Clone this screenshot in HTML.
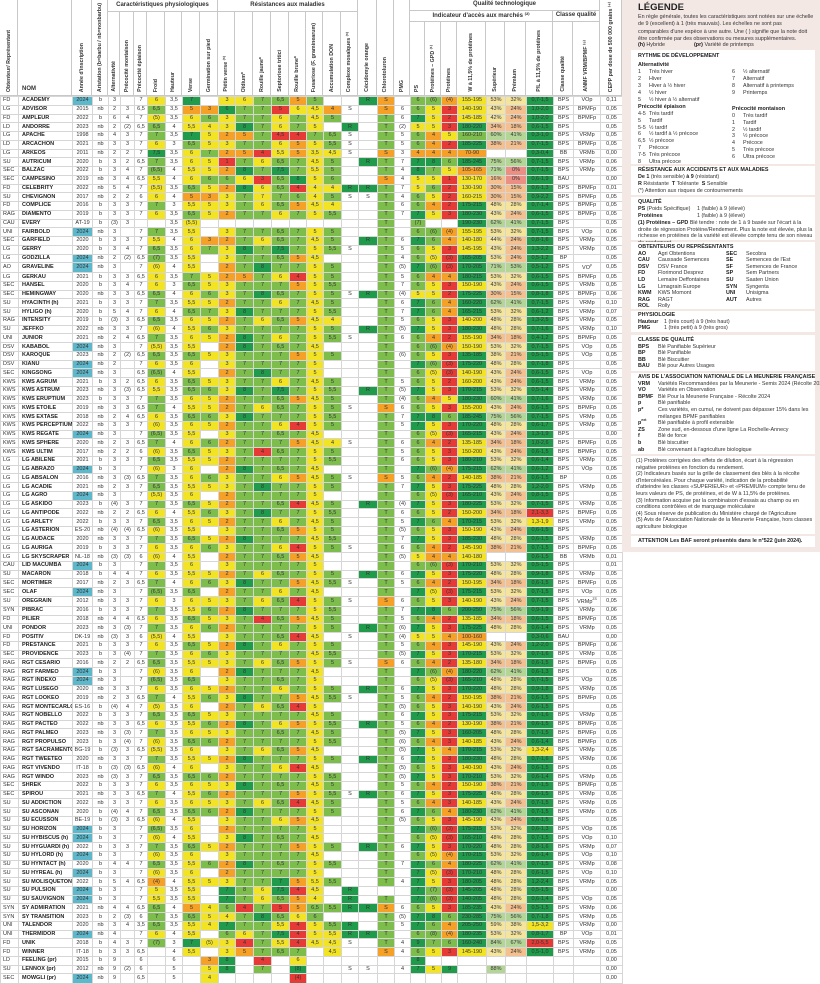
<!DOCTYPE html>
<html><head><meta charset="utf-8">
<style>
body{margin:0;width:820px;height:984px;position:relative;background:#fff;font-family:"Liberation Sans Narrow","Liberation Sans",sans-serif;color:#222;overflow:hidden}
.hd{position:absolute;box-sizing:border-box;border-right:1px solid #c8c8c8;border-bottom:1px solid #c8c8c8;font-weight:bold;font-size:5.5px;color:#333}
.hd .v{position:absolute;bottom:3px;left:50%;writing-mode:vertical-rl;transform:translateX(-50%) rotate(180deg);white-space:nowrap;font-size:5.3px}
.hd .t{position:absolute;top:2px;left:0;right:0;text-align:center;font-size:6px}
table{position:absolute;left:0;top:96px;width:622px;height:888px;border-collapse:collapse;table-layout:fixed;font-size:5.5px;color:#333}
td,th{border:1px solid #d6d6d6;padding:0;text-align:center;line-height:5px;white-space:nowrap;overflow:hidden}
sup{line-height:0;font-size:3.5px;vertical-align:super}
th{text-align:left;font-weight:bold;padding-left:3px;color:#222}
td:first-child{text-align:left;padding-left:2px}
td[r]{background:#e53a35}td[o]{background:#f5a128}td[y]{background:#f2e425}td[l]{background:#7dbd4c}td[g]{background:#1f9b4b}
td[b]{background:#5db8cc}td[a]{background:#f4c08f}td[c]{background:#f4e49c}td[d]{background:#b3d595}td[p]{background:#eb8e84}
tr.t td,tr.t th{border-top:1.5px solid #555}
#lg{position:absolute;left:622px;top:0;width:198px;height:552px;background:#f4e8e5;font-size:5.4px;color:#333;overflow:hidden}
#lg .bx{position:absolute;left:9px;width:184px;background:#fff}
#lg .a{position:absolute;white-space:nowrap;line-height:7px}
#lg b{color:#222}
</style></head><body>
<div class="hd" style="left:0;top:0;width:18px;height:96px"><div class="v">Obtenteur/ Représentant</div></div>
<div class="hd" style="left:18px;top:0;width:54px;height:96px"><div style="position:absolute;left:4px;bottom:3px;font-size:6px">NOM</div></div>
<div class="hd" style="left:72px;top:0;width:20px;height:96px"><div class="v">Année d'inscription</div></div>
<div class="hd" style="left:92px;top:0;width:16px;height:96px"><div class="v" style="bottom:auto;top:3px">Aristation (b=barbu / nb=nonbarbu)</div></div>
<div class="hd" style="left:108px;top:0;width:110px;height:12px"><div class="t">Caractéristiques physiologiques</div></div>
<div class="hd" style="left:108px;top:12px;width:12px;height:84px"><div class="v">Alternativité</div></div>
<div class="hd" style="left:120px;top:12px;width:14px;height:84px"><div class="v">Précocité montaison</div></div>
<div class="hd" style="left:134px;top:12px;width:13px;height:84px"><div class="v">Précocité épiaison</div></div>
<div class="hd" style="left:147px;top:12px;width:18px;height:84px"><div class="v">Froid</div></div>
<div class="hd" style="left:165px;top:12px;width:17px;height:84px"><div class="v">Hauteur</div></div>
<div class="hd" style="left:182px;top:12px;width:18px;height:84px"><div class="v">Verse</div></div>
<div class="hd" style="left:200px;top:12px;width:18px;height:84px"><div class="v">Germination sur pied</div></div>
<div class="hd" style="left:218px;top:0;width:140px;height:12px"><div class="t">Résistances aux maladies</div></div>
<div class="hd" style="left:218px;top:12px;width:17px;height:84px"><div class="v">Piétin verse ⁽³⁾</div></div>
<div class="hd" style="left:235px;top:12px;width:18px;height:84px"><div class="v">Oïdium*</div></div>
<div class="hd" style="left:253px;top:12px;width:18px;height:84px"><div class="v">Rouille jaune*</div></div>
<div class="hd" style="left:271px;top:12px;width:18px;height:84px"><div class="v">Septoriose tritici</div></div>
<div class="hd" style="left:289px;top:12px;width:17px;height:84px"><div class="v">Rouille brune*</div></div>
<div class="hd" style="left:306px;top:12px;width:17px;height:84px"><div class="v">Fusariose (F. graminearum)</div></div>
<div class="hd" style="left:323px;top:12px;width:18px;height:84px"><div class="v">Accumulation DON</div></div>
<div class="hd" style="left:341px;top:12px;width:17px;height:84px"><div class="v">Complexe mosaïques ⁽³⁾</div></div>
<div class="hd" style="left:358px;top:0;width:19px;height:96px"><div class="v">Cécidomyie orange</div></div>
<div class="hd" style="left:377px;top:0;width:17px;height:96px"><div class="v">Chlorotoluron</div></div>
<div class="hd" style="left:394px;top:0;width:16px;height:96px"><div class="v">PMG</div></div>
<div class="hd" style="left:410px;top:0;width:190px;height:11px"><div class="t" style="top:1px">Qualité technologique</div></div>
<div class="hd" style="left:410px;top:11px;width:143px;height:11px"><div class="t" style="top:1px">Indicateur d'accès aux marchés ⁽²⁾</div></div>
<div class="hd" style="left:553px;top:11px;width:47px;height:11px"><div class="t" style="top:1px">Classe qualité</div></div>
<div class="hd" style="left:410px;top:22px;width:15px;height:74px"><div class="v">PS</div></div>
<div class="hd" style="left:425px;top:22px;width:16px;height:74px"><div class="v">Protéines – GPD ⁽¹⁾</div></div>
<div class="hd" style="left:441px;top:22px;width:16px;height:74px"><div class="v">Protéines</div></div>
<div class="hd" style="left:457px;top:22px;width:29px;height:74px"><div class="v">W à 11,5% de protéines</div></div>
<div class="hd" style="left:486px;top:22px;width:19px;height:74px"><div class="v">Supérieur</div></div>
<div class="hd" style="left:505px;top:22px;width:21px;height:74px"><div class="v">Prémium</div></div>
<div class="hd" style="left:526px;top:22px;width:27px;height:74px"><div class="v">P/L à 11,5% de protéines</div></div>
<div class="hd" style="left:553px;top:22px;width:20px;height:74px"><div class="v">Classe qualité</div></div>
<div class="hd" style="left:573px;top:22px;width:27px;height:74px"><div class="v">ANMF VRM/BPMF ⁽⁵⁾</div></div>
<div class="hd" style="left:600px;top:0;width:22px;height:96px"><div class="v">CEPP par dose de 500 000 grains ⁽⁴⁾</div></div>

<table>
<colgroup><col style="width:18px"><col style="width:54px"><col style="width:20px"><col style="width:16px"><col style="width:12px"><col style="width:14px"><col style="width:13px"><col style="width:18px"><col style="width:17px"><col style="width:18px"><col style="width:18px"><col style="width:17px"><col style="width:18px"><col style="width:18px"><col style="width:18px"><col style="width:17px"><col style="width:17px"><col style="width:18px"><col style="width:17px"><col style="width:19px"><col style="width:17px"><col style="width:16px"><col style="width:15px"><col style="width:16px"><col style="width:16px"><col style="width:29px"><col style="width:19px"><col style="width:21px"><col style="width:27px"><col style="width:20px"><col style="width:27px"><col style="width:22px"></colgroup>
<tr><td>FD<th>ACADEMY<td b>2024<td>b<td>3<td><td>7<td y>6<td>3,5<td g>7<td><td y>3<td y>6<td l>7<td l>6,5<td o>5<td l>5<td><td><td g>R<td o>S<td><td l>6<td l>(6)<td o>(4)<td y>155-195<td c>53%<td c>32%<td g>0,7-1,5<td>BPS<td>VOp<td>0,11
<tr><td>LG<th>ADVISOR<td>2015<td>nb<td>2<td>3<td>6,5<td l>6,5<td>3,5<td o>5<td o>3<td g>6<td l>7<td l>7<td r>5<td y>6<td y>4,5<td o>4<td>S<td><td o>S<td>6<td l>6<td y>5<td r>3<td y>140-190<td c>43%<td a>24%<td g>1,0-2,0<td>BPS<td>BPMFp<td>0,05
<tr><td>FD<th>AMPLEUR<td>2022<td>b<td>6<td>4<td>7<td y>(5)<td>3,5<td y>6<td l>6<td y>3<td l>7<td l>7<td y>6<td l>7<td y>4,5<td l>5<td><td><td l>T<td>6<td g>7<td y>5<td r>2<td y>145-185<td c>42%<td a>24%<td g>1,0-2,0<td>BPS<td>BPMFp<td>0,05
<tr><td>LD<th>ANDORRE<td>2023<td>nb<td>2<td>(2)<td>6,5<td l>6,5<td>4<td y>5,5<td y>4<td y>3<td g>8<td l>7<td y>6<td l>7<td y>5<td><td g>R<td><td l>T<td>(2)<td y>5<td y>5<td r>3<td g>180-220<td a>34%<td a>18%<td g>0,6-1,5<td>BPS<td><td>0,05
<tr><td>LG<th>APACHE<td>1998<td>nb<td>4<td>3<td>7<td l>7<td>3,5<td g>7<td y>5<td o>2<td o>5<td l>7<td r>4,5<td r>4<td l>7<td l>6,5<td>S<td><td l>T<td>5<td l>6<td o>4<td y>5<td l>160-210<td d>60%<td d>41%<td g>0,3-1,0<td>BPS<td>VRMp<td>0,05
<tr><td>LD<th>ARCACHON<td>2021<td>nb<td>3<td>3<td>7<td y>6<td>3<td l>6,5<td y>5<td y>3<td l>7<td l>7<td y>6<td o>5<td y>5<td l>5,5<td>S<td><td l>T<td>5<td l>6<td o>4<td r>2<td g>185-225<td a>38%<td a>21%<td g>0,7-1,5<td>BPS<td>BPMFp<td>0,05
<tr><td>LG<th>ARKEOS<td>2011<td>nb<td>2<td>2<td>7<td g>7,5<td>3,5<td y>6<td l>7<td o>2<td o>5<td r>4<td y>5,5<td o>5<td y>3,5<td y>4,5<td>S<td><td o>S<td>3<td o>4<td o>4<td o>4<td o>70-90<td><td><td g>0,3-0,4<td>BB<td>VRMb<td>0,00
<tr><td>SU<th>AUTRICUM<td>2020<td>b<td>3<td>2<td>6,5<td l>7<td>3,5<td y>6<td y>5<td r>1<td l>7<td y>6<td l>6,5<td l>7<td y>4,5<td l>5<td><td g>R<td l>T<td>7<td g>7<td g>8<td l>6<td g>185-245<td d>75%<td d>56%<td g>0,7-1,5<td>BPS<td>VRMp<td>0,06
<tr><td>SEC<th>BALZAC<td>2022<td>b<td>3<td>4<td>7<td l>(6,5)<td>4<td y>5,5<td y>5<td o>2<td g>8<td l>7<td g>7,5<td l>7<td y>5,5<td l>5<td><td><td l>T<td>4<td g>8<td l>7<td y>5<td o>105-165<td d>71%<td p>0%<td g>0,7-1,5<td>BPS<td>VRMp<td>0,05
<tr><td>SEC<th>CAMPESINO<td>2019<td>nb<td>3<td>4<td>6,5<td y>5,5<td>4<td y>6<td l>6<td l>6<td y>6<td r>3<td l>6,5<td g>8<td y>5<td l>6<td><td><td o>S<td>4<td y>5<td y>5<td r>1<td y>130-170<td a>16%<td p>0%<td g>0,6-1,9<td>BAU<td><td>0,00
<tr><td>FD<th>CELEBRITY<td>2022<td>nb<td>5<td>4<td>7<td y>(5,5)<td>3,5<td l>6,5<td y>5<td o>2<td g>8<td y>6<td l>6,5<td r>4<td y>4<td y>4<td g>R<td g>R<td l>T<td>7<td y>5<td l>6<td r>2<td y>130-190<td a>30%<td a>15%<td g>0,6-1,3<td>BPS<td>BPMFp<td>0,01
<tr><td>SU<th>CHEVIGNON<td>2017<td>nb<td>2<td>2<td>6<td y>6<td>4<td o>5<td o>3<td y>3<td l>7<td y>7<td l>7<td l>6<td y>4<td l>5<td>S<td>S<td l>T<td>4<td l>6<td y>5<td r>2<td y>160-215<td a>30%<td a>15%<td g>0,9-2,2<td>BPS<td>BPMFp<td>0,05
<tr><td>FD<th>COMPLICE<td>2016<td>b<td>3<td>3<td>7<td l>7<td>3<td y>5,5<td y>5<td y>3<td l>7<td y>6<td l>6,5<td o>5<td y>4,5<td y>4<td><td><td l>T<td>6<td l>6<td o>4<td r>2<td g>175-215<td c>48%<td c>28%<td g>0,7-1,4<td>BPS<td>BPMFp<td>0,05
<tr><td>RAG<th>DIAMENTO<td>2019<td>b<td>3<td>3<td>7<td y>6<td>3,5<td l>6,5<td y>5<td o>2<td l>7<td l>7<td y>6<td l>7<td y>5<td l>5,5<td><td><td l>T<td>7<td g>7<td y>5<td r>3<td g>180-230<td c>43%<td a>24%<td g>0,6-1,5<td>BPS<td>BPMFp<td>0,05
<tr><td>CAU<th>EVERY<td>AT-19<td>b<td>(3)<td>3<td><td><td>3,5<td y>(5,5)<td><td><td><td><td><td><td><td><td><td><td l>T<td><td l>(7)<td><td><td g>190-230<td d>62%<td d>41%<td g>0,7-1,5<td>BPS<td><td>0,05
<tr><td>UNI<th>FAIRBOLD<td b>2024<td>nb<td>3<td><td>7<td l>7<td>3,5<td y>5,5<td><td y>3<td l>7<td l>7<td l>6,5<td l>7<td y>5<td l>5<td><td><td l>T<td><td l>6<td l>(6)<td o>(4)<td y>155-195<td c>53%<td c>32%<td g>0,7-1,5<td>BPS<td>VOp<td>0,06
<tr><td>SEC<th>GARFIELD<td>2020<td>b<td>3<td>3<td>7<td y>5,5<td>4<td y>6<td o>3<td o>2<td l>7<td y>6<td l>6,5<td l>7<td y>4,5<td l>5<td><td g>R<td l>T<td>6<td g>7<td l>6<td o>4<td y>140-180<td c>44%<td a>24%<td g>0,8-1,6<td>BPS<td>VRMp<td>0,05
<tr><td>LG<th>GERRY<td>2020<td>b<td>3<td>4<td>7<td l>6,5<td>3,5<td y>6<td l>7<td y>3<td g>8<td l>7<td g>7,5<td l>7<td y>5<td l>5,5<td>S<td><td l>T<td>5<td l>6<td y>5<td r>3<td y>145-195<td c>43%<td a>24%<td g>1,3-2,2<td>BPS<td>VRMp<td>0,05
<tr><td>LG<th>GODZILLA<td b>2024<td>nb<td>2<td>(2)<td>6,5<td l>(7)<td>3,5<td y>5,5<td><td y>3<td l>7<td l>7<td l>6,5<td o>5<td y>4,5<td><td><td><td l>T<td>4<td l>6<td y>(5)<td r>(3)<td g>165-205<td c>53%<td a>24%<td g>0,5-1,2<td>BP<td><td>0,05
<tr><td>AO<th>GRAVELINE<td b>2024<td>nb<td>3<td><td>7<td y>(6)<td>4<td y>5,5<td><td o>2<td l>7<td g>8<td l>7<td l>7<td y>5<td l>5<td><td><td l>T<td>(5)<td g>7<td l>(6)<td r>(3)<td g>170-205<td d>71%<td d>53%<td g>0,5-1,2<td>BPS<td>VO<sup>p</sup><td>0,05
<tr><td>LG<th>GERKAU<td>2021<td>b<td>3<td>3<td>6,5<td y>6<td>3,5<td l>7<td y>5<td o>2<td o>5<td l>7<td y>6<td r>4<td y>5<td l>5<td><td><td l>T<td>5<td l>6<td o>4<td o>4<td g>180-215<td c>53%<td c>32%<td g>0,6-1,5<td>BPS<td>BPMFp<td>0,05
<tr><td>SEC<th>HANSEL<td>2020<td>b<td>3<td>4<td>7<td y>6<td>3<td l>6,5<td y>5<td y>3<td l>7<td l>7<td l>7<td o>5<td y>5<td l>5,5<td><td><td l>T<td>7<td l>6<td y>5<td r>3<td y>150-190<td c>43%<td a>24%<td g>0,6-1,5<td>BPS<td>VRMb<td>0,05
<tr><td>SEC<th>HEMINGWAY<td>2020<td>nb<td>3<td>3<td>6,5<td l>6,5<td>4<td y>6<td l>6<td y>3<td l>7<td g>8<td l>6,5<td l>7<td y>5<td l>5<td>S<td g>R<td l>T<td>(4)<td y>5<td y>5<td r>2<td g>175-225<td a>30%<td a>15%<td g>0,8-1,8<td>BPS<td>BPMFp<td>0,06
<tr><td>SU<th>HYACINTH (h)<td>2021<td>b<td>3<td>3<td>7<td l>7<td>3,5<td y>5,5<td y>5<td o>2<td l>7<td l>7<td y>6<td l>7<td y>4,5<td l>5<td><td><td l>T<td>6<td g>7<td l>6<td o>4<td g>160-220<td d>62%<td d>41%<td g>0,7-1,5<td>BPS<td>VRMp<td>0,10
<tr><td>SU<th>HYLIGO (h)<td>2020<td>b<td>5<td>4<td>7<td y>6<td>4<td l>6,5<td l>7<td y>3<td g>8<td l>7<td l>7<td l>7<td y>5<td l>5,5<td><td><td l>T<td>7<td g>7<td l>6<td o>4<td g>165-215<td c>53%<td c>32%<td g>0,6-1,2<td>BPS<td>VRMp<td>0,07
<tr><td>RAG<th>INTENSITY<td>2019<td>b<td>(3)<td>3<td>6,5<td l>6,5<td>3,5<td y>6<td y>5<td o>2<td l>7<td y>6<td l>6,5<td o>5<td y>4,5<td y>4<td><td><td l>T<td>5<td l>6<td y>5<td r>3<td y>140-200<td c>48%<td c>28%<td g>1,3-2,5<td>BPS<td>VRMp<td>0,05
<tr><td>SU<th>JEFFKO<td>2022<td>nb<td>3<td>3<td>7<td y>(6)<td>4<td y>5,5<td l>6<td y>3<td l>7<td l>7<td l>7<td l>7<td y>5<td l>5<td><td g>R<td l>T<td>(5)<td g>7<td y>5<td r>3<td g>180-230<td c>48%<td c>28%<td g>0,7-1,6<td>BPS<td>VRMp<td>0,10
<tr><td>UNI<th>JUNIOR<td>2021<td>nb<td>2<td>4<td>6,5<td l>7<td>3,5<td y>6<td y>5<td o>2<td g>8<td l>7<td y>6<td l>7<td y>5<td l>5,5<td>S<td><td l>T<td>6<td l>6<td o>4<td r>2<td y>155-190<td a>34%<td a>18%<td g>0,4-1,2<td>BPS<td>BPMFp<td>0,05
<tr><td>DSV<th>KABABOL<td b>2024<td>nb<td>3<td><td>7<td y>(5,5)<td>3,5<td y>5,5<td><td o>2<td g>8<td l>7<td l>6,5<td l>7<td y>4,5<td><td><td><td l>T<td><td l>6<td l>(6)<td o>(4)<td y>150-190<td c>53%<td c>32%<td g>0,7-1,5<td>BPS<td>VOp<td>0,05
<tr><td>DSV<th>KAROQUE<td>2023<td>nb<td>2<td>(2)<td>6,5<td l>6,5<td>3,5<td l>6,5<td y>5<td y>3<td l>7<td l>7<td l>7<td o>5<td y>5<td l>5<td><td><td l>T<td>(6)<td l>6<td y>5<td r>3<td g>135-185<td c>38%<td a>21%<td g>0,5-1,5<td>BPS<td>VOp<td>0,05
<tr><td>DSV<th>KIANU<td b>2024<td>nb<td>2<td><td>7<td y>6<td>3,5<td y>6<td><td y>3<td l>7<td l>7<td l>7<td l>7<td y>5<td><td><td><td l>T<td><td g>7<td l>(6)<td r>(3)<td g>175-220<td c>48%<td c>28%<td g>0,7-1,8<td>BPS<td><td>0,05
<tr><td>SEC<th>KINGSONG<td b>2024<td>nb<td>3<td><td>6,5<td l>(6,5)<td>4<td y>5,5<td><td o>2<td l>7<td g>8<td l>7<td l>7<td y>5<td><td><td><td l>T<td><td l>6<td y>(5)<td r>(3)<td y>140-190<td c>43%<td a>24%<td g>0,6-1,5<td>BPS<td>VOp<td>0,05
<tr><td>KWS<th>KWS AGRUM<td>2021<td>b<td>3<td>2<td>6,5<td y>6<td>3,5<td l>6,5<td y>5<td y>3<td l>7<td l>7<td y>6<td l>7<td y>4,5<td l>5<td><td><td l>T<td>5<td l>6<td y>5<td r>2<td y>160-200<td c>43%<td a>24%<td g>0,6-1,5<td>BPS<td>VRMp<td>0,05
<tr><td>KWS<th>KWS ASTRUM<td>2023<td>nb<td>3<td>(3)<td>6,5<td y>5,5<td>3,5<td l>6,5<td l>6<td y>3<td g>8<td l>7<td g>7,5<td l>7<td y>5<td l>5,5<td><td g>R<td l>T<td>(5)<td g>7<td y>5<td r>3<td g>170-215<td c>53%<td c>32%<td g>0,5-1,4<td>BPS<td>VRMp<td>0,05
<tr><td>KWS<th>KWS ERUPTIUM<td>2023<td>b<td>3<td>3<td>7<td l>7<td>3,5<td y>6<td y>5<td o>2<td l>7<td l>7<td l>6,5<td o>5<td y>4,5<td l>5<td><td><td l>T<td>(4)<td l>6<td o>4<td y>5<td g>180-230<td d>60%<td d>41%<td g>0,7-1,6<td>BPS<td>VRMp<td>0,06
<tr><td>KWS<th>KWS ETOILE<td>2019<td>nb<td>3<td>3<td>6,5<td l>7<td>4<td y>5,5<td y>5<td o>2<td l>7<td y>6<td l>6,5<td l>7<td y>5<td l>5<td>S<td><td o>S<td>6<td l>6<td y>5<td r>3<td y>155-200<td c>43%<td a>24%<td g>0,6-1,5<td>BPS<td>BPMFp<td>0,05
<tr><td>KWS<th>KWS EXTASE<td>2018<td>nb<td>2<td>4<td>6,5<td y>6<td>3,5<td l>6,5<td l>6<td y>3<td g>8<td l>7<td l>7<td l>7<td y>5<td l>5,5<td><td><td l>T<td>7<td g>7<td g>8<td l>6<td g>185-245<td d>75%<td d>56%<td g>0,7-1,5<td>BPS<td>VRMp<td>0,05
<tr><td>KWS<th>KWS PERCEPTIUM<td>2022<td>nb<td>3<td>3<td>7<td y>(6)<td>3,5<td y>6<td y>5<td o>2<td l>7<td l>7<td y>6<td r>4<td y>5<td l>5<td><td><td l>T<td>5<td g>7<td y>5<td r>3<td g>170-220<td c>48%<td c>28%<td g>0,6-1,7<td>BPS<td>VRMp<td>0,05
<tr><td>KWS<th>KWS REGATE<td b>2024<td>nb<td>3<td><td>7<td l>(6,5)<td>3,5<td y>5,5<td><td y>3<td l>7<td l>7<td l>6,5<td l>7<td y>4,5<td><td><td><td l>T<td><td l>6<td y>(5)<td r>(3)<td g>165-215<td c>43%<td a>24%<td g>1,3-1,9<td>BPS<td><td>0,00
<tr><td>KWS<th>KWS SPHERE<td>2020<td>nb<td>2<td>3<td>6,5<td l>7<td>4<td y>6<td l>6<td o>2<td l>7<td l>7<td l>7<td o>5<td y>4,5<td y>4<td>S<td><td l>T<td>6<td l>6<td o>4<td r>2<td y>135-185<td a>34%<td a>18%<td g>1,0-2,6<td>BPS<td>BPMFp<td>0,05
<tr><td>KWS<th>KWS ULTIM<td>2017<td>nb<td>2<td>2<td>6<td y>(6)<td>3,5<td l>6,5<td y>5<td y>3<td l>7<td r>4<td l>6,5<td l>7<td y>5<td l>5<td><td><td l>T<td>5<td l>6<td y>5<td r>3<td y>150-200<td c>43%<td a>24%<td g>0,6-1,5<td>BPS<td>BPMFp<td>0,05
<tr><td>LG<th>LG ABILENE<td>2021<td>b<td>3<td>3<td>7<td l>6,5<td>3,5<td y>5,5<td y>5<td o>2<td l>7<td l>7<td l>7<td l>7<td y>5<td l>5,5<td><td><td l>T<td>6<td l>6<td y>5<td r>3<td g>180-210<td c>53%<td c>32%<td g>0,6-1,4<td>BPS<td>VRMp<td>0,05
<tr><td>LG<th>LG ABRAZO<td b>2024<td>b<td>3<td><td>7<td y>(6)<td>3<td y>6<td><td o>2<td g>8<td l>7<td l>6,5<td l>7<td y>4,5<td><td><td><td l>T<td><td g>7<td l>(6)<td o>(4)<td g>175-215<td d>62%<td d>41%<td g>0,6-1,2<td>BPS<td>VOp<td>0,05
<tr><td>LG<th>LG ABSALON<td>2016<td>nb<td>3<td>(3)<td>6,5<td l>7<td>3,5<td y>6<td l>6<td y>3<td l>7<td l>7<td y>6<td o>5<td y>4,5<td l>5<td>S<td><td o>S<td>5<td l>6<td o>4<td r>2<td y>140-185<td a>38%<td a>21%<td g>0,6-1,5<td>BP<td><td>0,05
<tr><td>LG<th>LG ACADIE<td>2021<td>nb<td>2<td>3<td>7<td l>6,5<td>3,5<td y>5,5<td y>5<td y>3<td l>7<td g>8<td l>7<td l>7<td y>5<td l>5<td><td><td l>T<td>7<td g>7<td y>5<td r>3<td g>175-225<td c>48%<td c>28%<td g>1,2-2,0<td>BPS<td>VRMp<td>0,05
<tr><td>LG<th>LG AGRO<td b>2024<td>nb<td>3<td><td>7<td y>(5,5)<td>3,5<td y>6<td><td o>2<td l>7<td l>7<td l>7<td l>7<td y>5<td><td><td><td l>T<td><td l>6<td y>(5)<td r>(3)<td g>165-210<td c>43%<td a>24%<td g>0,8-1,5<td>BPS<td><td>0,05
<tr><td>LG<th>LG ASKIDO<td>2023<td>b<td>(4)<td>3<td>7<td l>7<td>3,5<td l>6,5<td y>5<td o>2<td l>7<td l>7<td l>6,5<td r>4<td y>4,5<td l>5<td><td g>R<td l>T<td>(4)<td g>7<td y>5<td r>3<td g>180-225<td c>53%<td c>32%<td g>0,7-1,5<td>BPS<td>VRMp<td>0,05
<tr><td>LG<th>LG ANTIPODE<td>2022<td>nb<td>2<td>2<td>6,5<td y>6<td>4<td y>5,5<td l>6<td y>3<td l>7<td g>8<td l>7<td l>7<td y>5<td l>5,5<td><td><td l>T<td>6<td l>6<td y>5<td r>2<td y>150-200<td a>34%<td a>18%<td r>2,1-3,3<td>BPS<td>BPMFp<td>0,05
<tr><td>LG<th>LG ARLETY<td>2022<td>b<td>3<td>3<td>7<td l>6,5<td>3,5<td y>6<td y>5<td o>2<td l>7<td l>7<td y>6<td l>7<td y>4,5<td l>5<td><td><td l>T<td>5<td g>7<td l>6<td o>4<td g>170-215<td c>53%<td c>32%<td y>1,3-1,9<td>BPS<td>VRMp<td>0,05
<tr><td>LG<th>LG ASTERION<td>ES-20<td>nb<td>(4)<td>(4)<td>6,5<td y>(6)<td>3,5<td y>5,5<td><td y>3<td l>7<td l>7<td l>6,5<td o>5<td y>5<td l>5<td><td><td l>T<td>(5)<td l>6<td y>5<td r>3<td y>150-190<td c>43%<td a>24%<td g>0,6-1,5<td>BPS<td><td>0,05
<tr><td>LG<th>LG AUDACE<td>2020<td>nb<td>3<td>3<td>7<td l>7<td>3,5<td l>6,5<td y>5<td o>2<td g>8<td l>7<td l>7<td l>7<td y>4,5<td l>5,5<td><td><td l>T<td>7<td g>7<td y>5<td r>3<td g>185-230<td c>48%<td c>28%<td g>0,6-1,5<td>BPS<td>VRMp<td>0,05
<tr><td>LG<th>LG AURIGA<td>2019<td>b<td>3<td>3<td>7<td y>6<td>3,5<td y>6<td l>6<td y>3<td l>7<td l>7<td y>6<td r>4<td y>5<td l>5<td>S<td><td l>T<td>6<td l>6<td o>4<td r>2<td y>145-190<td a>38%<td a>21%<td g>0,7-1,5<td>BPS<td>BPMFp<td>0,05
<tr><td>LG<th>LG SKYSCRAPER<td>NL-18<td>nb<td>(3)<td>(3)<td>6<td y>(6)<td>4<td y>5,5<td><td o>2<td l>7<td l>7<td l>6,5<td o>5<td y>4,5<td><td><td><td l>T<td>(5)<td y>5<td o>4<td o>4<td y>140-180<td><td><td g>0,6-1,5<td>BB<td>VRMb<td>0,01
<tr><td>CAU<th>LID MACUMBA<td b>2024<td>b<td>3<td><td>7<td l>7<td>3,5<td y>6<td><td y>3<td l>7<td l>7<td l>7<td l>7<td y>5<td><td><td><td l>T<td><td l>6<td l>(6)<td r>(3)<td g>170-210<td c>53%<td c>32%<td g>0,5-1,5<td>BPS<td><td>0,01
<tr><td>SU<th>MACARON<td>2018<td>b<td>4<td>4<td>7<td y>6<td>3,5<td y>5,5<td y>5<td o>2<td l>7<td y>6<td l>6,5<td l>7<td y>5<td l>5<td><td g>R<td l>T<td>6<td g>7<td y>5<td r>3<td g>175-220<td c>48%<td c>28%<td g>0,9-1,8<td>BPS<td>VRMp<td>0,05
<tr><td>SEC<th>MORTIMER<td>2017<td>nb<td>2<td>3<td>6,5<td l>7<td>4<td y>6<td l>6<td y>3<td g>8<td l>7<td l>7<td o>5<td y>4,5<td l>5,5<td>S<td><td l>T<td>5<td l>6<td o>4<td r>2<td y>150-195<td a>34%<td a>18%<td g>0,6-1,5<td>BPS<td>BPMFp<td>0,05
<tr><td>SEC<th>OLAF<td b>2024<td>nb<td>3<td><td>7<td l>(6,5)<td>3,5<td l>6,5<td><td o>2<td l>7<td l>7<td y>6<td l>7<td y>4,5<td><td><td><td l>T<td><td g>7<td y>(5)<td r>(3)<td g>175-215<td c>53%<td c>32%<td g>0,7-1,5<td>BPS<td>VOp<td>0,05
<tr><td>SU<th>OREGRAIN<td>2012<td>nb<td>3<td>3<td>7<td y>6<td>3<td y>6<td y>5<td y>3<td l>7<td y>6<td l>6,5<td r>4<td y>5<td l>5<td>S<td><td o>S<td>6<td l>6<td y>5<td r>3<td y>140-190<td c>43%<td a>24%<td g>0,7-1,5<td>BPS<td>VRMp<sup>ZS</sup><td>0,05
<tr><td>SYN<th>PIBRAC<td>2016<td>b<td>3<td>3<td>7<td l>7<td>3,5<td y>5,5<td l>6<td o>2<td g>8<td l>7<td l>7<td l>7<td y>5<td l>5,5<td><td><td l>T<td>7<td g>7<td g>8<td l>6<td g>200-250<td d>75%<td d>56%<td g>0,9-1,9<td>BPS<td>VRMp<td>0,06
<tr><td>FD<th>PILIER<td>2018<td>nb<td>4<td>4<td>6,5<td y>6<td>3,5<td l>6,5<td y>5<td y>3<td l>7<td r>4<td l>6,5<td o>5<td y>4,5<td l>5<td><td><td l>T<td>5<td l>6<td o>4<td r>2<td y>135-185<td a>34%<td a>18%<td g>0,6-1,5<td>BPS<td>BPMFp<td>0,05
<tr><td>UNI<th>PONDOR<td>2023<td>nb<td>3<td>(3)<td>7<td l>7<td>3,5<td y>6<td l>6<td o>2<td l>7<td l>7<td l>7<td l>7<td y>5<td l>5<td><td g>R<td l>T<td>(6)<td g>7<td y>5<td r>3<td g>175-225<td c>48%<td c>28%<td g>0,6-1,4<td>BPS<td>VRMp<td>0,05
<tr><td>FD<th>POSITIV<td>DK-19<td>nb<td>(3)<td>3<td>6<td y>(5,5)<td>4<td y>5,5<td><td y>3<td l>7<td l>7<td l>6,5<td r>4<td y>4,5<td><td>S<td><td l>T<td>(4)<td y>5<td y>5<td o>4<td o>100-160<td><td><td g>0,3-0,6<td>BAU<td><td>0,00
<tr><td>FD<th>PRESTANCE<td>2021<td>b<td>3<td>3<td>7<td y>6<td>3,5<td l>6,5<td y>5<td o>2<td g>8<td l>7<td y>6<td l>7<td y>5<td l>5<td><td><td l>T<td>5<td l>6<td o>4<td r>3<td y>145-190<td c>43%<td a>24%<td g>1,2-2,0<td>BPS<td>BPMFp<td>0,06
<tr><td>SEC<th>PROVIDENCE<td>2023<td>b<td>3<td>(4)<td>7<td l>7<td>3,5<td y>6<td l>6<td y>3<td l>7<td l>7<td l>7<td l>7<td y>4,5<td l>5,5<td><td><td l>T<td>(5)<td g>7<td y>5<td r>3<td g>170-215<td c>53%<td c>32%<td g>0,7-1,6<td>BPS<td>VRMp<td>0,05
<tr><td>RAG<th>RGT CESARIO<td>2016<td>nb<td>2<td>2<td>6,5<td l>6,5<td>3,5<td y>5,5<td y>5<td y>3<td l>7<td y>6<td l>6,5<td o>5<td y>5<td l>5<td>S<td><td o>S<td>6<td l>6<td o>4<td r>2<td y>135-180<td a>34%<td a>18%<td g>0,6-1,5<td>BPS<td>BPMFp<td>0,05
<tr><td>RAG<th>RGT FARMEO<td b>2024<td>b<td>3<td><td>7<td y>(6)<td>3,5<td y>6<td><td o>2<td g>8<td l>7<td l>7<td l>7<td y>4,5<td><td><td><td l>T<td><td g>7<td l>(6)<td o>(4)<td g>180-220<td d>62%<td d>41%<td g>0,6-1,3<td>BPS<td><td>0,05
<tr><td>RAG<th>RGT INDEXO<td b>2024<td>nb<td>3<td><td>7<td l>(6,5)<td>3,5<td l>6,5<td><td y>3<td l>7<td l>7<td l>6,5<td l>7<td y>5<td><td><td><td l>T<td><td l>6<td y>(5)<td r>(3)<td g>165-210<td c>48%<td c>28%<td g>0,7-1,5<td>BPS<td>VOp<td>0,05
<tr><td>RAG<th>RGT LUSEGO<td>2020<td>nb<td>3<td>3<td>7<td y>6<td>3,5<td y>6<td y>5<td o>2<td l>7<td l>7<td y>6<td l>7<td y>5<td l>5<td><td g>R<td l>T<td>6<td g>7<td y>5<td r>3<td g>170-220<td c>48%<td c>28%<td g>0,9-1,8<td>BPS<td>VRMp<td>0,05
<tr><td>RAG<th>RGT LOOKEO<td>2019<td>nb<td>2<td>3<td>6,5<td l>7<td>4<td y>5,5<td l>6<td y>3<td g>8<td l>7<td l>7<td o>5<td y>4,5<td l>5,5<td>S<td><td l>T<td>5<td l>6<td o>4<td r>2<td y>150-195<td a>38%<td a>21%<td g>0,6-1,5<td>BPS<td>BPMFp<td>0,05
<tr><td>RAG<th>RGT MONTECARLO<td>ES-16<td>b<td>(4)<td>4<td>7<td y>(5)<td>3,5<td y>6<td><td o>2<td l>7<td y>6<td l>6,5<td r>4<td y>5<td><td><td><td l>T<td>(5)<td l>6<td y>5<td r>3<td y>140-190<td c>43%<td a>24%<td g>0,6-1,5<td>BPS<td><td>0,05
<tr><td>RAG<th>RGT NOBELLO<td>2022<td>b<td>3<td>3<td>7<td l>6,5<td>3,5<td l>6,5<td y>5<td y>3<td l>7<td l>7<td l>7<td l>7<td y>4,5<td l>5<td><td><td l>T<td>6<td g>7<td y>5<td r>3<td g>175-215<td c>53%<td c>32%<td g>0,7-1,6<td>BPS<td>VRMp<td>0,05
<tr><td>RAG<th>RGT PACTEO<td>2022<td>nb<td>3<td>3<td>6,5<td y>6<td>3,5<td y>5,5<td l>6<td o>2<td g>8<td l>7<td y>6<td o>5<td y>5<td l>5,5<td><td g>R<td l>T<td>5<td l>6<td o>4<td r>2<td y>130-190<td a>38%<td a>21%<td g>0,6-1,5<td>BPS<td>BPMFp<td>0,05
<tr><td>RAG<th>RGT PALMEO<td>2023<td>nb<td>3<td>(3)<td>7<td l>7<td>3,5<td y>6<td y>5<td y>3<td l>7<td l>7<td l>6,5<td l>7<td y>4,5<td l>5<td><td><td l>T<td>(5)<td g>7<td y>5<td r>3<td g>160-205<td c>48%<td c>28%<td g>0,7-1,5<td>BPS<td>BPMFp<td>0,05
<tr><td>RAG<th>RGT PROPULSO<td>2023<td>b<td>3<td>(4)<td>7<td y>(6)<td>3,5<td l>6,5<td l>6<td o>2<td l>7<td l>7<td l>7<td l>7<td y>5<td l>5,5<td><td><td l>T<td>(6)<td l>6<td o>4<td r>3<td y>140-185<td c>43%<td a>24%<td g>0,6-1,4<td>BPS<td>BPMFp<td>0,05
<tr><td>RAG<th>RGT SACRAMENTO<td>BG-19<td>b<td>(3)<td>3<td>6,5<td y>(5,5)<td>3,5<td y>6<td><td y>3<td l>7<td y>6<td l>6,5<td o>5<td y>4,5<td><td><td><td l>T<td>(5)<td g>7<td y>5<td o>4<td g>170-215<td c>53%<td c>32%<td y>1,3-2,4<td>BPS<td>VRMp<td>0,05
<tr><td>RAG<th>RGT TWEETEO<td>2020<td>nb<td>3<td>3<td>7<td l>7<td>3,5<td y>5,5<td y>5<td o>2<td g>8<td l>7<td l>7<td l>7<td y>5<td l>5<td><td g>R<td l>T<td>6<td g>7<td y>5<td r>3<td g>180-230<td c>48%<td c>28%<td g>0,7-1,6<td>BPS<td>VRMp<td>0,06
<tr><td>RAG<th>RGT VIVENDO<td>IT-18<td>b<td>(3)<td>(3)<td>6,5<td y>(6)<td>4<td y>6<td><td y>3<td l>7<td l>7<td y>6<td r>4<td y>4,5<td><td><td><td l>T<td>(5)<td l>6<td y>5<td r>3<td y>140-190<td c>43%<td a>24%<td g>0,6-1,5<td>BPS<td><td>0,05
<tr><td>RAG<th>RGT WINDO<td>2023<td>nb<td>(3)<td>3<td>7<td l>6,5<td>3,5<td l>6,5<td l>6<td o>2<td l>7<td l>7<td l>7<td l>7<td y>5<td l>5,5<td><td><td l>T<td>(5)<td g>7<td y>5<td r>3<td g>170-210<td c>53%<td c>32%<td g>0,6-1,4<td>BPS<td>VRMp<td>0,05
<tr><td>SEC<th>SHREK<td>2022<td>b<td>3<td>3<td>7<td y>6<td>3,5<td y>6<td y>5<td y>3<td g>8<td l>7<td l>6,5<td l>7<td y>4,5<td l>5<td><td><td l>T<td>5<td l>6<td o>4<td r>2<td y>150-190<td a>38%<td a>21%<td g>0,7-1,5<td>BPS<td>BPMFp<td>0,05
<tr><td>SEC<th>SPIROU<td>2021<td>nb<td>3<td>3<td>6,5<td l>7<td>4<td y>5,5<td l>6<td o>2<td l>7<td l>7<td l>7<td o>5<td y>5<td l>5,5<td>S<td g>R<td l>T<td>6<td g>7<td y>5<td r>3<td g>175-225<td c>48%<td c>28%<td g>0,6-1,5<td>BPS<td>VRMp<td>0,05
<tr><td>SU<th>SU ADDICTION<td>2022<td>nb<td>3<td>3<td>7<td y>6<td>3,5<td y>6<td y>5<td y>3<td l>7<td y>6<td l>6,5<td r>4<td y>4,5<td l>5<td><td><td l>T<td>5<td l>6<td o>4<td r>3<td y>140-185<td c>43%<td a>24%<td g>0,7-1,5<td>BPS<td>VRMp<td>0,05
<tr><td>SU<th>SU ASCONAN<td>2020<td>b<td>(4)<td>4<td>7<td l>6,5<td>3,5<td l>6,5<td l>6<td o>2<td g>8<td l>7<td l>7<td l>7<td y>5<td l>5<td><td><td l>T<td>6<td g>7<td l>6<td o>4<td g>180-230<td d>62%<td d>41%<td g>0,7-1,5<td>BPS<td>VRMp<td>0,05
<tr><td>SU<th>SU ECUSSON<td>BE-19<td>b<td>(3)<td>3<td>6,5<td y>(6)<td>4<td y>5,5<td><td y>3<td l>7<td l>7<td y>6<td o>5<td y>4,5<td><td><td><td l>T<td>(5)<td l>6<td y>5<td r>3<td y>145-190<td c>43%<td a>24%<td g>0,6-1,5<td>BPS<td><td>0,05
<tr><td>SU<th>SU HORIZON<td b>2024<td>b<td>3<td><td>7<td l>(6,5)<td>3,5<td y>6<td><td o>2<td l>7<td l>7<td l>7<td l>7<td y>5<td><td><td><td l>T<td><td g>7<td l>(6)<td r>(3)<td g>175-215<td c>53%<td c>32%<td g>0,6-1,3<td>BPS<td>VOp<td>0,05
<tr><td>SU<th>SU HYBISCUS (h)<td b>2024<td>b<td>3<td><td>7<td y>(6)<td>4<td y>5,5<td><td y>3<td g>8<td l>7<td l>6,5<td l>7<td y>4,5<td><td><td><td l>T<td><td l>6<td y>(5)<td r>(3)<td g>165-210<td c>48%<td c>28%<td g>0,7-1,5<td>BPS<td>VOp<td>0,10
<tr><td>SU<th>SU HYGUARDI (h)<td>2022<td>b<td>3<td>3<td>7<td l>7<td>3,5<td l>6,5<td y>5<td o>2<td l>7<td l>7<td l>7<td o>5<td y>5<td l>5<td><td g>R<td l>T<td>6<td g>7<td y>5<td r>3<td g>170-220<td c>48%<td c>28%<td g>0,8-1,6<td>BPS<td>VRMp<td>0,07
<tr><td>SU<th>SU HYLORD (h)<td b>2024<td>b<td>3<td><td>7<td y>(6)<td>3,5<td y>6<td><td y>3<td l>7<td l>7<td l>7<td l>7<td y>4,5<td><td><td><td l>T<td><td l>6<td y>(5)<td o>(4)<td g>170-215<td c>53%<td c>32%<td g>0,6-1,4<td>BPS<td>VOp<td>0,10
<tr><td>SU<th>SU HYNTACT (h)<td>2020<td>b<td>4<td>4<td>7<td l>6,5<td>3,5<td y>5,5<td l>6<td o>2<td g>8<td l>7<td l>6,5<td l>7<td y>5<td l>5,5<td><td><td l>T<td>7<td g>7<td l>6<td o>4<td g>180-225<td d>62%<td d>41%<td g>0,7-1,5<td>BPS<td>VRMp<td>0,08
<tr><td>SU<th>SU HYREAL (h)<td b>2024<td>b<td>3<td><td>7<td y>(6)<td>3,5<td y>6<td><td o>2<td l>7<td l>7<td l>7<td l>7<td y>5<td><td><td><td l>T<td><td g>7<td y>(5)<td r>(3)<td g>170-210<td c>48%<td c>28%<td g>0,6-1,5<td>BPS<td>VOp<td>0,10
<tr><td>SU<th>SU MOLISQUETON<td>2022<td>b<td>5<td>4<td>6,5<td o>(4)<td>4<td y>5,5<td y>5<td y>3<td l>7<td l>7<td g>7<td o>5<td y>5,5<td l>5,5<td><td><td l>T<td>4<td g>7<td y>5<td r>3<td g>180-205<td c>48%<td c>28%<td g>1,2-2,4<td>BPS<td>VRMp<td>0,05
<tr><td>SU<th>SU PULSION<td b>2024<td>b<td>3<td><td>7<td y>5<td>3,5<td y>5,5<td><td g>7<td l>8<td y>6<td g>7,5<td r>4<td y>4,5<td><td g>R<td><td><td><td g>7<td l>(7)<td r>(3)<td g>145-205<td c>48%<td c>28%<td g>0,5-1,5<td>BPS<td><td>0,00
<tr><td>SU<th>SU SAUVIGNON<td b>2024<td>b<td>3<td><td>7<td y>5,5<td>3,5<td y>5,5<td><td g>7<td l>7<td y>6<td l>6,5<td o>5<td y>4<td><td g>R<td><td l>T<td><td g>7<td l>(6)<td r>(3)<td g>140-205<td c>48%<td c>28%<td g>0,6-1,4<td>BPS<td>VOp<td>0,05
<tr><td>SYN<th>SY ADMIRATION<td>2021<td>nb<td>4<td>4<td>6,5<td l>6,5<td>4<td o>5<td y>4<td l>6<td r>4<td l>7<td r>5<td o>5<td l>6,5<td l>5,5<td g>R<td g>R<td o>S<td>6<td l>6<td y>5<td r>3<td g>185-235<td c>43%<td a>24%<td g>0,5-1,5<td>BPS<td>VRMp<td>0,06
<tr><td>SYN<th>SY TRANSITION<td>2023<td>b<td>2<td>(3)<td>6<td l>7<td>3,5<td l>6,5<td y>5<td y>4<td l>7<td g>8<td l>6,5<td y>6<td l>6<td><td><td><td l>T<td>(5)<td g>7<td g>8<td l>6<td g>230-285<td d>75%<td d>56%<td g>0,7-1,8<td>BPS<td>VRMp<td>0,05
<tr><td>UNI<th>TALENDOR<td>2020<td>nb<td>3<td>4<td>3,5<td l>6,5<td>3,5<td y>5,5<td y>4<td g>7<td l>7<td l>7<td y>5,5<td r>4<td y>5<td l>5,5<td g>R<td><td l>T<td>5<td g>7<td l>6<td o>4<td g>205-250<td c>59%<td c>38%<td y>1,5-3,2<td>BPS<td>VRMp<td>0,00
<tr><td>UNI<th>THERMIDOR<td b>2024<td>nb<td>4<td><td>7<td y>6<td>4<td y>5,5<td><td l>6<td y>6<td l>7<td g>7,5<td r>4<td y>5<td y>5,5<td g>R<td g>R<td l>T<td><td l>6<td l>(8)<td o>(4)<td g>180-235<td c>53%<td c>32%<td g>0,8-1,7<td>BP<td>VOp<td>0,01
<tr><td>FD<th>UNIK<td>2018<td>b<td>4<td>3<td>7<td l>(7)<td>3<td g>7<td y>(5)<td y>3<td r>4<td l>7<td y>5,5<td r>4<td y>4,5<td y>4,5<td>S<td><td l>T<td>4<td g>9<td l>7<td l>6<td g>160-240<td d>84%<td d>67%<td r>2,0-5,5<td>BPS<td>VRMp<td>0,05
<tr><td>FD<th>WINNER<td>IT-18<td>b<td>3<td>3<td>6,5<td><td>4<td y>5,5<td><td y>3<td o>5<td l>7<td l>6,5<td l>7<td><td y>4,5<td><td><td o>S<td>4<td l>6<td y>5<td r>3<td y>145-190<td c>43%<td a>24%<td g>0,5-1,0<td>BPS<td>VRMp<td>0,05
<tr class="t"><td>LD<th>FEELING (pr)<td>2015<td>b<td>9<td><td>6<td><td>6<td><td o>3<td g>8<td><td r>4<td><td y>6<td><td><td><td><td><td><td g>8<td><td><td><td><td><td><td><td><td>0,00
<tr><td>SU<th>LENNOX (pr)<td>2012<td>nb<td>9<td>(2)<td>6<td><td>5<td><td y>5<td g>8<td><td l>7<td><td g>(8)<td><td><td>S<td>S<td><td>4<td g>7<td y>5<td g>9<td><td d>88%<td><td><td><td><td>0,00
<tr><td>SEC<th>MOWGLI (pr)<td b>2024<td>nb<td>9<td><td>6,5<td><td>5<td><td y>4<td><td><td><td><td r>(4)<td><td><td><td><td><td><td><td><td><td><td><td><td><td><td><td>0,00
</table>

<div id="lg">
<div class="a" style="left:16px;top:2px;font-size:9.5px;font-weight:bold;line-height:11px;color:#222">LÉGENDE</div>
<div class="a" style="left:16px;top:14px;white-space:normal;width:176px;line-height:7.3px">En règle générale, toutes les caractéristiques sont notées sur une échelle de 9 (excellent) à 1 (très mauvais). Les échelles ne sont pas comparables d'une espèce à une autre. Une ( ) signifie que la note doit être confirmée par des observations ou mesures supplémentaires.</div>
<div class="a" style="left:16px;top:42px"><b>(h)</b> Hybride</div><div class="a" style="left:72px;top:42px"><b>(pr)</b> Variété de printemps</div>

<div class="bx" style="top:50px;height:114px"></div>
<div class="a" style="left:16px;top:53px"><b>RYTHME DE DÉVELOPPEMENT</b></div>
<div class="a" style="left:16px;top:62px"><b>Alternativité</b></div>
<div class="a" style="left:16px;top:69px">1<br>2<br>3<br>4<br>5</div>
<div class="a" style="left:27px;top:69px">Très hiver<br>Hiver<br>Hiver à ½ hiver<br>½ hiver<br>½ hiver à ½ alternatif</div>
<div class="a" style="left:110px;top:69px">6<br>7<br>8<br>9</div>
<div class="a" style="left:121px;top:69px">½ alternatif<br>Alternatif<br>Alternatif à printemps<br>Printemps</div>
<div class="a" style="left:16px;top:104px"><b>Précocité épiaison</b></div>
<div class="a" style="left:16px;top:111px;line-height:6.8px">4-5<br>5<br>5-5<br>6<br>6,5<br>7<br>7-5<br>8</div>
<div class="a" style="left:27px;top:111px;line-height:6.8px">Très tardif<br>Tardif<br>½ tardif<br>½ tardif à ½ précoce<br>½ précoce<br>Précoce<br>Très précoce<br>Ultra précoce</div>
<div class="a" style="left:110px;top:106px"><b>Précocité montaison</b></div>
<div class="a" style="left:110px;top:113px;line-height:6.8px">0<br>1<br>2<br>3<br>4<br>5<br>6</div>
<div class="a" style="left:121px;top:113px;line-height:6.8px">Très tardif<br>Tardif<br>½ tardif<br>½ précoce<br>Précoce<br>Très précoce<br>Ultra précoce</div>

<div class="bx" style="top:166px;height:29px"></div>
<div class="a" style="left:16px;top:167px"><b>RÉSISTANCE AUX ACCIDENTS ET AUX MALADIES</b><br><b>De 1</b> (très sensible) <b>à 9</b> (résistant)<br><b>R</b> Résistante &nbsp;<b>T</b> Tolérante &nbsp;<b>S</b> Sensible<br>(*) Attention aux risques de contournements</div>

<div class="bx" style="top:197px;height:43px"></div>
<div class="a" style="left:16px;top:199px"><b>QUALITÉ</b><br><b>PS</b> (Poids Spécifique)<br><b>Protéines</b></div>
<div class="a" style="left:75px;top:206px">1 (faible) à 9 (élevé)<br>1 (faible) à 9 (élevé)</div>
<div class="a" style="left:16px;top:220px;white-space:normal;width:176px;line-height:6.6px"><b>(1) Protéines – GPD</b> Blé tendre : note de 1 à 9 basée sur l'écart à la droite de régression Protéine/Rendement. Plus la note est élevée, plus la richesse en protéines de la variété est élevée compte tenu de son niveau de rendement.</div>

<div class="bx" style="top:242px;height:67px"></div>
<div class="a" style="left:16px;top:244px;line-height:6.6px"><b>OBTENTEURS OU REPRÉSENTANTS</b><br><b>AO<br>CAU<br>DSV<br>FD<br>LD<br>LG<br>KWM<br>RAG<br>ROL</b></div>
<div class="a" style="left:36px;top:250.6px;line-height:6.6px">Agri Obtentions<br>Caussade Semences<br>DSV France<br>Florimond Desprez<br>Lemaire Deffontaines<br>Limagrain Europe<br>KWS Momont<br>RAGT<br>Rolly</div>
<div class="a" style="left:104px;top:250.6px;line-height:6.6px"><b>SEC<br>SE<br>SF<br>SP<br>SU<br>SYN<br>UNI<br>AUT</b></div>
<div class="a" style="left:124px;top:250.6px;line-height:6.6px">Secobra<br>Semences de l'Est<br>Semences de France<br>Sem Partners<br>Saaten Union<br>Syngenta<br>Unisigma<br>Autres</div>

<div class="bx" style="top:311px;height:21px"></div>
<div class="a" style="left:16px;top:312px;line-height:6.6px"><b>PHYSIOLOGIE</b><br><b>Hauteur</b><br><b>PMG</b></div>
<div class="a" style="left:42px;top:318.6px;line-height:6.6px">1 (très court) à 9 (très haut)<br>1 (très petit) à 9 (très gros)</div>

<div class="bx" style="top:335px;height:36px"></div>
<div class="a" style="left:16px;top:337px;line-height:6.6px"><b>CLASSE DE QUALITÉ</b><br><b>BPS<br>BP<br>BB<br>BAU</b></div>
<div class="a" style="left:36px;top:343.6px;line-height:6.6px">Blé Panifiable Supérieur<br>Blé Panifiable<br>Blé Biscuitier<br>Blé pour Autres Usages</div>

<div class="bx" style="top:373px;height:81px"></div>
<div class="a" style="left:16px;top:374px;line-height:6.6px"><b>AVIS DE L'ASSOCIATION NATIONALE DE LA MEUNERIE FRANÇAISE</b></div>
<div class="a" style="left:16px;top:380.6px;line-height:6.6px"><b>VRM<br>VO<br>BPMF<br>p<br>p*<br><br>p<sup>ext</sup><br>ZS<br>f<br>b<br>ab</b></div>
<div class="a" style="left:36px;top:380.6px;line-height:6.6px">Variétés Recommandées par la Meunerie - Semis 2024 (Récolte 2025)<br>Variétés en Observation<br>Blé Pour la Meunerie Française - Récolte 2024<br>Blé panifiable<br>Ces variétés, en cumul, ne doivent pas dépasser 15% dans les<br>mélanges BPMF panifiables<br>Blé panifiable à profil extensible<br>Zone sud, en-dessous d'une ligne La Rochelle-Annecy<br>Blé de force<br>Blé biscuitier<br>Blé convenant à l'agriculture biologique</div>

<div class="bx" style="top:456px;height:78px"></div>
<div class="a" style="left:14px;top:458px;white-space:normal;width:178px;line-height:6.6px">(1) Protéines corrigées des effets de dilution, écart à la régression négative protéines en fonction du rendement.<br>(2) Indicateurs basés sur la grille de classement des blés à la récolte d'Intercéréales. Pour chaque variété, indication de la probabilité d'atteindre les classes «SUPERIEUR» et «PREMIUM» compte tenu de leurs valeurs de PS, de protéines, et de W à 11,5% de protéines.<br>(3) Information acquise par la combinaison d'essais au champ ou en conditions contrôlées et de marquage moléculaire<br>(4) Sous réserve de publication du Ministère chargé de l'Agriculture<br>(5) Avis de l'Association Nationale de la Meunerie Française, hors classes agriculture biologique</div>

<div class="bx" style="top:536px;height:11px"></div>
<div class="a" style="left:16px;top:538px"><b>ATTENTION Les BAF seront présentés dans le n°522 (juin 2024).</b></div>
</div>
</body></html>
